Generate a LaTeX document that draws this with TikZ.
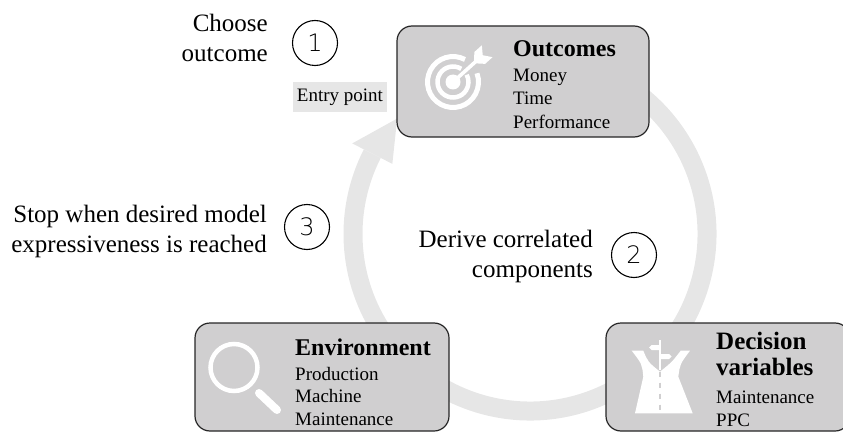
\documentclass[tikz,border=0pt]{standalone}
\usepackage{fontspec}
\setmainfont{Liberation Serif}
\newfontfamily\numfont{DejaVu Sans ExtraLight}
\definecolor{boxgray}{RGB}{208,207,208}
\definecolor{ringgray}{RGB}{230,230,230}

\begin{document}
\begin{tikzpicture}[x=1pt,y=1pt,
  panel/.style={draw=black!85,line width=1.2pt,fill=boxgray,rounded corners=15pt,inner sep=0pt},
  title/.style={anchor=base west,inner sep=0pt,font=\fontsize{24}{24}\selectfont\bfseries},
  item/.style={anchor=base west,inner sep=0pt,font=\fontsize{19}{19}\selectfont},
  steptext/.style={anchor=base east,inner sep=0pt,font=\fontsize{25}{25}\selectfont},
  num/.style={circle,draw,line width=1.1pt,minimum size=45pt,inner sep=0pt,font=\numfont\fontsize{24}{24}\selectfont},
  entry/.style={fill=ringgray,minimum width=94pt,minimum height=30pt,inner sep=0pt,font=\fontsize{19}{19}\selectfont}]

\useasboundingbox (0,0) rectangle (843,432);

\begin{scope}[shift={(530,198)}]
\draw[ringgray,line width=19pt] (75:177) arc[start angle=75,end angle=-207,radius=177];
\fill[ringgray] (153:199.5) -- (139:176) -- (153:154.5) -- cycle;
\end{scope}

\node[entry] (entry) at (340,335) {Entry point};

\node[panel,minimum width=252pt,minimum height=111pt] (outcomes) at (523,350.5) {};
\node[panel,minimum width=254pt,minimum height=108pt] (environment) at (322,55) {};
\node[panel,minimum width=244pt,minimum height=108pt] (decision) at (728,55) {};

% target
\begin{scope}[shift={(453,350)},white]
\fill (0,0) circle[radius=7.5];
\draw[line width=4.5pt] (58:15.5) arc[start angle=58,end angle=388,radius=15.5];
\draw[line width=5pt] (62:25.5) arc[start angle=62,end angle=380,radius=25.5];
\begin{scope}[rotate=42]
\fill (0,-1.8) rectangle (33,1.8);
\fill (30,-2) -- (36,-8) -- (46,-8) -- (40,0) -- (46,8) -- (36,8) -- (30,2) -- cycle;
\end{scope}
\end{scope}

% magnifier
\draw[white,line width=4.5pt] (234,64.5) circle[radius=23.5];
\draw[white,line width=8pt,line cap=round] (259,39) -- (277,22);

% road
\fill[white] (631.7,81.3) -- (643.3,81.3) .. controls (648,70) .. (660,60.3)
  .. controls (672,70) .. (680.7,81.3) -- (690,81.3) .. controls (680,68) .. (678.3,55.3)
  -- (692.7,18.7) -- (635,18.7) -- (643.3,55.3) .. controls (642,68) .. (631.7,81.3) -- cycle;
\draw[boxgray,line width=1.3pt,dash pattern=on 5pt off 6pt] (660,60.3) -- (660,18.7);
\draw[white,line width=2pt] (660,92) -- (660,62);
\fill[white] (660,87) -- (651.5,87) -- (649,84.5) -- (651.5,82) -- (660,82) -- cycle;
\fill[white] (660,78) -- (669,78) -- (671.7,75.5) -- (669,73) -- (660,73) -- cycle;

\node[title] (outtitle) at (513,375) {Outcomes};
\foreach \t [count=\i] in {Money,Time,Performance}
  \node[item] (out\i) at (513,{373-23*\i}) {\t};

\node[title] (envtitle) at (295,77) {Environment};
\foreach \t [count=\i] in {Production,Machine,Maintenance}
  \node[item] (env\i) at (295,{74.5-22.5*\i}) {\t};

\node[title,font=\fontsize{25}{25}\selectfont\bfseries] (dectitle) at (716,83) {Decision};
\node[title,font=\fontsize{25}{25}\selectfont\bfseries] (dectitle2) at (716,57) {variables};
\foreach \t [count=\i] in {Maintenance,PPC}
  \node[item] (dec\i) at (716,{51-22.5*\i}) {\t};

\node[steptext] (choose) at (268,400) {Choose};
\node[steptext] (choose2) at (268,370) {outcome};
\node[num] (n1) at (315,389) {1};

\node[steptext] (derive) at (593,185) {Derive correlated};
\node[steptext] (derive2) at (593,155) {components};
\node[num] (n2) at (634,177) {2};

\node[steptext] (stop) at (267,210) {Stop when desired model};
\node[steptext] (stop2) at (267,180) {expressiveness is reached};
\node[num] (n3) at (307,205) {3};

\end{tikzpicture}
\end{document}
